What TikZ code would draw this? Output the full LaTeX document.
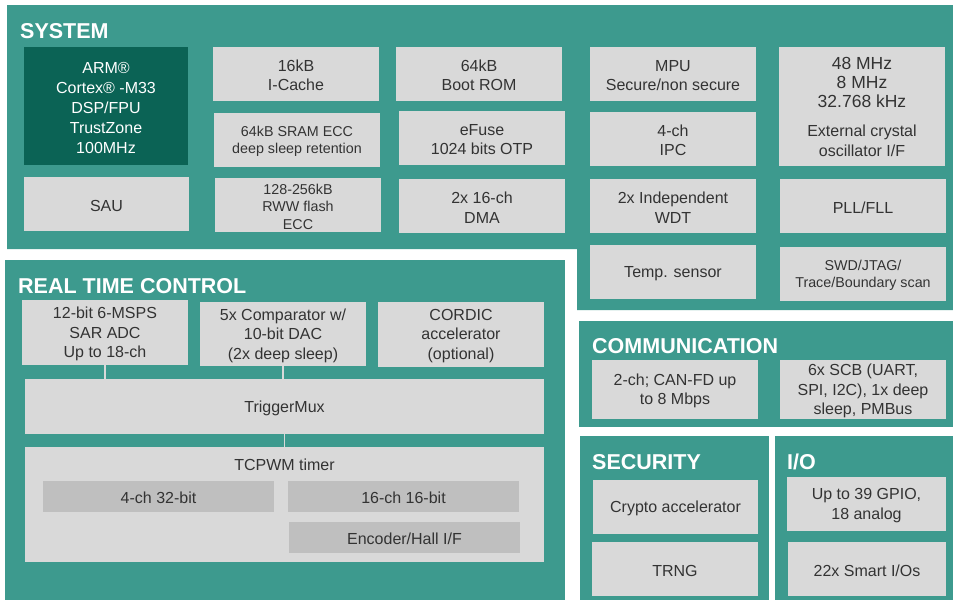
\documentclass[tikz,border=0pt]{standalone}
\usepackage{fontspec}
\setmainfont{Liberation Sans}
\definecolor{panel}{RGB}{61,154,142}
\definecolor{boxgray}{RGB}{217,217,217}
\definecolor{subgray}{RGB}{191,191,191}
\definecolor{armteal}{RGB}{11,99,85}
\definecolor{txt}{RGB}{51,51,51}
\newcommand\mkbox[8]{%
  \node[#2, minimum width={(#6-#4)*1pt}, minimum height={(#7-#5)*1pt}] (#1) at ({(#4+#6)/2},{(#5+#7)/2}) {};
  \node[#3] (#1-t) at ([yshift=-1.5pt]#1.center) {#8};}
\tikzset{
  panelfill/.style={fill=panel, draw=none},
  boxbase/.style={rectangle, inner sep=0pt, outer sep=0pt, draw=none},
  fg/.style={boxbase, fill=boxgray},
  fsub/.style={boxbase, fill=subgray},
  farm/.style={boxbase, fill=armteal},
  tn/.style={inner sep=0pt, align=center, text=txt, font=\fontsize{16}{19.5}\selectfont},
  ts/.style={inner sep=0pt, align=center, text=txt, font=\fontsize{14.3}{17.5}\selectfont},
  tw/.style={inner sep=0pt, align=center, text=white, font=\fontsize{16}{20}\selectfont},
  clk/.style={inner sep=0pt, align=center, text=txt, font=\fontsize{17.5}{19}\selectfont},
  clk2/.style={inner sep=0pt, align=center, text=txt, font=\fontsize{16}{20}\selectfont},
  title/.style={anchor=base west, inner sep=0pt, text=white, font=\fontsize{21.5}{24}\selectfont\bfseries},
  conn/.style={draw=boxgray, line width=1.6pt}
}
\begin{document}
\begin{tikzpicture}[x=1pt,y=-1pt]
\useasboundingbox (0,0) rectangle (953,600);
\fill[white] (0,0) rectangle (953,600);
% panels
\fill[panelfill] (7,5) -- (953,5) -- (953,310) -- (577,310) -- (577,249) -- (7,249) -- cycle;
\fill[panelfill] (5,260) rectangle (565,600);
\fill[panelfill] (579,321) rectangle (953,427);
\fill[panelfill] (580,436) rectangle (769,600);
\fill[panelfill] (775,436) rectangle (953,600);
% titles
\node[title] (tsys) at (20,38) {SYSTEM};
\node[title] (trtc) at (18,293) {REAL TIME CONTROL};
\node[title] (tcom) at (592,353) {COMMUNICATION};
\node[title] (tsec) at (592,469) {SECURITY};
\node[title] (tio) at (787,469) {I/O};
% SYSTEM
\mkbox{arm}{farm}{tw}{24}{47}{188}{165}{ARM®\\Cortex® -M33\\DSP/FPU\\TrustZone\\100MHz}
\mkbox{sau}{fg}{tn}{24}{177}{189}{231}{SAU}
\mkbox{icache}{fg}{tn}{213}{47}{379}{101}{16kB\\I-Cache}
\mkbox{sram}{fg}{ts}{214}{113}{380}{167}{64kB SRAM ECC\\deep sleep retention}
\mkbox{flash}{fg}{ts}{215}{178}{381}{232}{128-256kB\\RWW flash\\ECC}
\mkbox{bootrom}{fg}{tn}{396}{47}{562}{101}{64kB\\Boot ROM}
\mkbox{efuse}{fg}{tn}{399}{111}{565}{165}{eFuse\\1024 bits OTP}
\mkbox{dma}{fg}{tn}{399}{179}{565}{233}{2x 16-ch\\DMA}
\mkbox{mpu}{fg}{tn}{590}{47}{756}{101}{MPU\\Secure/non secure}
\mkbox{ipc}{fg}{tn}{590}{112}{756}{166}{4-ch\\IPC}
\mkbox{wdt}{fg}{tn}{590}{179}{756}{233}{2x Independent\\WDT}
\mkbox{temp}{fg}{tn}{590}{245}{756}{299}{Temp. sensor}
\node[fg, minimum width=166pt, minimum height=119pt] (clock) at (862,106.5) {};
\node[clk] (clkf) at (862,82) {48 MHz\\8 MHz\\32.768 kHz};
\node[clk2] (clkx) at (862,141) {External crystal\\oscillator I/F};
\mkbox{pll}{fg}{tn}{780}{179}{946}{233}{PLL/FLL}
\mkbox{swd}{fg}{ts}{780}{247}{946}{301}{SWD/JTAG/\\Trace/Boundary scan}
% REAL TIME CONTROL
\mkbox{adc}{fg}{tn}{22}{300}{188}{365}{12-bit 6-MSPS\\SAR ADC\\Up to 18-ch}
\mkbox{comp}{fg}{tn}{200}{302}{366}{366}{5x Comparator w/\\10-bit DAC\\(2x deep sleep)}
\mkbox{cordic}{fg}{tn}{378}{302}{544}{367}{CORDIC\\accelerator\\(optional)}
\mkbox{trig}{fg}{tn}{25}{379}{544}{434}{TriggerMux}
\node[fg, minimum width=519pt, minimum height=115pt] (tcpwm) at (284.5,504.5) {};
\node[tn] (tcpwml) at (284.5,465) {TCPWM timer};
\mkbox{t32}{fsub}{tn}{43}{481}{274}{512}{4-ch 32-bit}
\mkbox{t16}{fsub}{tn}{288}{481}{519}{512}{16-ch 16-bit}
\mkbox{enc}{fsub}{tn}{289}{522}{520}{553}{Encoder/Hall I/F}
\draw[conn] (adc.south) -- (adc.south |- trig.north);
\draw[conn] (comp.south) -- (comp.south |- trig.north);
\draw[conn] (trig.south) -- (trig.south |- tcpwm.north);
% COMMUNICATION
\mkbox{can}{fg}{tn}{592}{360}{758}{419}{2-ch; CAN-FD up\\to 8 Mbps}
\mkbox{scb}{fg}{tn}{780}{360}{946}{419}{6x SCB (UART,\\SPI, I2C), 1x deep\\sleep, PMBus}
% SECURITY
\mkbox{crypto}{fg}{tn}{593}{480}{758}{534}{Crypto accelerator}
\mkbox{trng}{fg}{tn}{592}{542}{758}{596}{TRNG}
% I/O
\mkbox{gpio}{fg}{tn}{787}{477}{946}{531}{Up to 39 GPIO,\\18 analog}
\mkbox{smart}{fg}{tn}{788}{542}{946}{596}{22x Smart I/Os}
\end{tikzpicture}
\end{document}
